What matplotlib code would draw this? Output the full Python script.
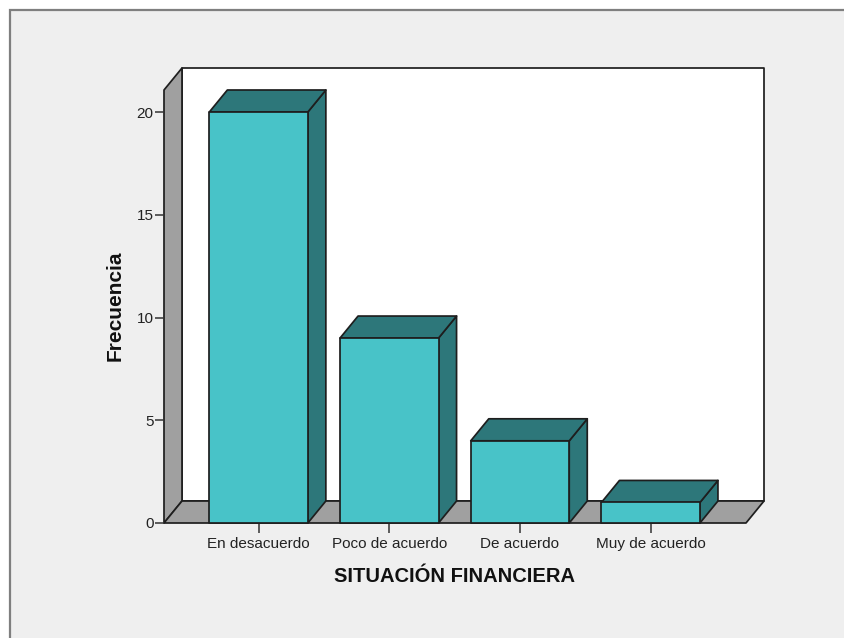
import matplotlib
matplotlib.use("Agg")
import matplotlib.pyplot as plt
from matplotlib.patches import Polygon, Rectangle

categories = ["En desacuerdo", "Poco de acuerdo", "De acuerdo", "Muy de acuerdo"]
frequencies = [20, 9, 4, 1]
y_ticks = [0, 5, 10, 15, 20]
x_title = "SITUACIÓN FINANCIERA"
y_title = "Frecuencia"

plt.rcParams["font.family"] = ["Liberation Sans", "DejaVu Sans"]

W, H = 844, 638
FRONT = "#48C3C8"
DARK = "#2D777A"
GRAY = "#A0A0A0"
BG = "#EFEFEF"
EDGE = "#1E1E1E"

fig = plt.figure(figsize=(W / 100, H / 100), dpi=100, facecolor="white")

# outer panel with grey border
fig.add_artist(Rectangle((9.5 / W, -0.02), (W - 9.5 + 20) / W, 1.02 - 9.5 / H,
                         transform=fig.transFigure, facecolor=BG,
                         edgecolor="#7F7F7F", linewidth=1.6, zorder=-5))

left, right, bottom, top = 164, 746, 523, 90
ax = fig.add_axes([left / W, 1 - bottom / H, (right - left) / W, (bottom - top) / H])
ax.patch.set_alpha(0)
for s in ax.spines.values():
    s.set_visible(False)

px_x = 130.7            # pixels per category
px_y = 411.0 / 20       # pixels per unit of frequency
x0 = -(258.6 - left) / px_x
x1 = x0 + (right - left) / px_x
y1 = (bottom - top) / px_y
ax.set_xlim(x0, x1)
ax.set_ylim(0, y1)

dx, dy = 18 / px_x, 22 / px_y
bw = 98.5 / px_x


def poly(pts, fc, z):
    ax.add_patch(Polygon(pts, closed=True, facecolor=fc, edgecolor=EDGE,
                         linewidth=1.25, joinstyle="round", clip_on=False, zorder=z))


# back wall, side wall, floor
poly([(x0 + dx, dy), (x1 + dx, dy), (x1 + dx, y1 + dy), (x0 + dx, y1 + dy)], "white", 1)
poly([(x0, 0), (x0 + dx, dy), (x0 + dx, y1 + dy), (x0, y1)], GRAY, 1.1)
poly([(x0, 0), (x1, 0), (x1 + dx, dy), (x0 + dx, dy)], GRAY, 1.2)

# bars
for i, v in enumerate(frequencies):
    l, r = i - bw / 2, i + bw / 2
    z = 2 + i * 0.1
    poly([(r, 0), (r + dx, dy), (r + dx, v + dy), (r, v)], DARK, z)
    poly([(l, v), (r, v), (r + dx, v + dy), (l + dx, v + dy)], DARK, z)
    poly([(l, 0), (r, 0), (r, v), (l, v)], FRONT, z + 0.01)

ax.set_xticks(range(len(categories)), categories)
ax.set_yticks(y_ticks)
ax.tick_params(axis="x", length=7, width=1.1, color="#333333", pad=3,
               labelsize=11, labelcolor="#222222")
ax.tick_params(axis="y", length=6.5, width=1.1, color="#333333", pad=1,
               labelsize=11, labelcolor="#222222")

fig.text(455 / W, 1 - 576 / H, x_title, ha="center", va="center",
         fontsize=14.5, fontweight="bold", color="#111111")
fig.text(115 / W, 1 - 305.5 / H, y_title, ha="center", va="center", rotation=90,
         fontsize=15, fontweight="bold", color="#111111")

fig.savefig("out.png", dpi=100, facecolor=fig.get_facecolor())
